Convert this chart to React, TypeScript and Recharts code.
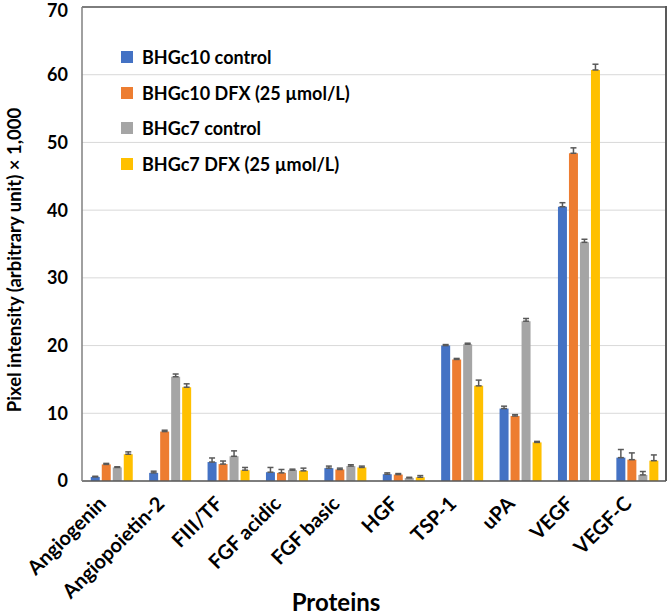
import { BarChart, Bar, XAxis, YAxis, CartesianGrid, ErrorBar, ReferenceLine } from 'recharts';

const categories = ['Angiogenin', 'Angiopoietin-2', 'FIII/TF', 'FGF acidic', 'FGF basic', 'HGF', 'TSP-1', 'uPA', 'VEGF', 'VEGF-C'];

const bhgc10Control = [0.6, 1.2, 2.8, 1.3, 1.9, 1.0, 20.0, 10.7, 40.5, 3.45];
const bhgc10Dfx = [2.45, 7.3, 2.5, 1.2, 1.7, 0.95, 17.95, 9.6, 48.4, 3.15];
const bhgc7Control = [2.0, 15.4, 3.65, 1.6, 2.2, 0.45, 20.2, 23.6, 35.25, 0.9];
const bhgc7Dfx = [3.95, 13.85, 1.6, 1.5, 2.0, 0.55, 14.05, 5.7, 60.7, 3.0];

const bhgc10ControlErr = [0.1, 0.25, 0.6, 0.7, 0.3, 0.2, 0.15, 0.35, 0.6, 1.2];
const bhgc10DfxErr = [0.15, 0.2, 0.45, 0.5, 0.2, 0.15, 0.15, 0.2, 0.8, 1.0];
const bhgc7ControlErr = [0.1, 0.4, 0.8, 0.15, 0.2, 0.1, 0.15, 0.4, 0.45, 0.5];
const bhgc7DfxErr = [0.35, 0.5, 0.4, 0.4, 0.2, 0.25, 0.85, 0.15, 0.85, 0.85];

const yTicks = [0, 10, 20, 30, 40, 50, 60, 70];

const seriesNames = ['BHGc10 control', 'BHGc10 DFX (25 µmol/L)', 'BHGc7 control', 'BHGc7 DFX (25 µmol/L)'];
const colors = ['#4472C4', '#ED7D31', '#A5A5A5', '#FFC000'];

const data = categories.map((name, i) => ({
  name,
  c10c: bhgc10Control[i],
  c10d: bhgc10Dfx[i],
  c7c: bhgc7Control[i],
  c7d: bhgc7Dfx[i],
  c10cErr: [0, bhgc10ControlErr[i]],
  c10dErr: [0, bhgc10DfxErr[i]],
  c7cErr: [0, bhgc7ControlErr[i]],
  c7dErr: [0, bhgc7DfxErr[i]],
}));

const FONT = 'Lato, "Open Sans", sans-serif';

const XTick = (props: any) => {
  const { x, y, payload } = props;
  return (
    <g transform={`translate(${x - 4},${y + 16})`}>
      <text transform="rotate(-45)" textAnchor="end" fontFamily={FONT} fontWeight="bold" fontSize={20} fill="#000">
        {payload.value}
      </text>
    </g>
  );
};

const LegendBox = () => (
  <div
    style={{
      position: 'absolute',
      left: 121,
      top: 39,
      fontFamily: FONT,
      fontWeight: 'bold',
      fontSize: 18,
      color: '#000',
    }}
  >
    {seriesNames.map((name, i) => (
      <div key={name} style={{ display: 'flex', alignItems: 'center', height: 35.8 }}>
        <span style={{ display: 'inline-block', width: 12, height: 12, background: colors[i], marginRight: 9 }} />
        <span>{name}</span>
      </div>
    ))}
  </div>
);

export default function App() {
  return (
    <div style={{ position: 'absolute', left: 0, top: 0, width: 667, height: 616, background: '#fff' }}>
      <BarChart
        width={667}
        height={616}
        data={data}
        margin={{ top: 7, right: 1, bottom: 0, left: 0 }}
        barCategoryGap="15%"
        barGap={2}
      >
        <CartesianGrid vertical={false} stroke="#d9d9d9" />
        <XAxis
          dataKey="name"
          height={135}
          interval={0}
          tickLine={false}
          axisLine={{ stroke: '#595959', strokeWidth: 1.5 }}
          tick={<XTick />}
          label={{
            content: () => (
              <text x={336} y={611} textAnchor="middle" fontFamily={FONT} fontWeight="bold" fontSize={24} fill="#000">
                Proteins
              </text>
            ),
          }}
        />
        <YAxis
          width={82}
          domain={[0, 70]}
          ticks={yTicks}
          tickLine={false}
          tickSize={0}
          tickMargin={14}
          axisLine={{ stroke: '#808080', strokeWidth: 1.5 }}
          tick={{ fontFamily: FONT, fontWeight: 'bold', fontSize: 18, fill: '#000' }}
          label={{
            content: () => (
              <text
                x={21}
                y={260}
                transform="rotate(-90, 21, 260)"
                textAnchor="middle"
                fontFamily={FONT}
                fontWeight="bold"
                fontSize={18.5}
                fill="#000"
              >
                Pixel intensity (arbitrary unit) × 1,000
              </text>
            ),
          }}
        />
        <ReferenceLine y={70} stroke="#595959" strokeWidth={1.5} />
        <Bar dataKey="c10c" name={seriesNames[0]} fill={colors[0]} isAnimationActive={false}>
          <ErrorBar dataKey="c10cErr" direction="y" width={3} stroke="#595959" strokeWidth={1.5} />
        </Bar>
        <Bar dataKey="c10d" name={seriesNames[1]} fill={colors[1]} isAnimationActive={false}>
          <ErrorBar dataKey="c10dErr" direction="y" width={3} stroke="#595959" strokeWidth={1.5} />
        </Bar>
        <Bar dataKey="c7c" name={seriesNames[2]} fill={colors[2]} isAnimationActive={false}>
          <ErrorBar dataKey="c7cErr" direction="y" width={3} stroke="#595959" strokeWidth={1.5} />
        </Bar>
        <Bar dataKey="c7d" name={seriesNames[3]} fill={colors[3]} isAnimationActive={false}>
          <ErrorBar dataKey="c7dErr" direction="y" width={3} stroke="#595959" strokeWidth={1.5} />
        </Bar>
      </BarChart>
      <LegendBox />
      <div style={{ position: 'absolute', left: 665, top: 6, width: 1.5, height: 475, background: '#595959' }} />
    </div>
  );
}
